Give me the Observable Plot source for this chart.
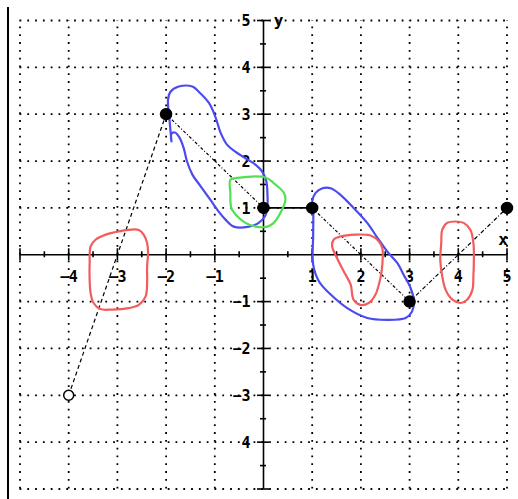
<!DOCTYPE html>
<html><head><meta charset="utf-8">
<script src="https://cdn.jsdelivr.net/npm/d3@7"></script>
<script src="https://cdn.jsdelivr.net/npm/@observablehq/plot@0.6"></script>
<style>
html,body{margin:0;padding:0;background:#fff;}
#wrap{position:relative;width:518px;height:499px;}
#edge{position:absolute;left:7px;top:7px;width:2px;height:492px;background:#000;}
</style></head><body><div id="wrap"><div id="edge"></div></div>
<script>
// ---- data ----
const pointX = [-4, -2, 0, 1, 3, 5];
const pointY = [-3, 3, 1, 1, -1, 1];
const pointOpen = [true, false, false, false, false, false];

const gridValues = [-5, -4, -3, -2, -1, 1, 2, 3, 4, 5];
const majorTicks = [-5, -4, -3, -2, -1, 1, 2, 3, 4, 5];
const minorTicks = [-4.5, -3.5, -2.5, -1.5, -0.5, 0.5, 1.5, 2.5, 3.5, 4.5];

const xTickValues = [-4, -3, -2, -1, 1, 2, 3, 4, 5];
const xTickLabels = ["−4", "−3", "−2", "−1", "1", "2", "3", "4", "5"];
const yTickValues = [5, 4, 3, 2, 1, -1, -2, -3, -4];
const yTickLabels = ["5", "4", "3", "2", "1", "−1", "−2", "−3", "4"];

const blueLoop1 = [
  [-1.89, 2.42], [-1.93, 2.88], [-1.96, 3.31], [-1.91, 3.48], [-1.74, 3.59], [-1.46, 3.59],
  [-1.33, 3.48], [-1.12, 3.24], [-0.99, 2.95], [-0.88, 2.60], [-0.75, 2.35], [-0.58, 2.20],
  [-0.37, 2.06], [-0.16, 1.92], [-0.03, 1.78], [0.06, 1.56], [0.08, 1.32], [0.08, 1.03],
  [0.03, 0.82], [-0.10, 0.68], [-0.30, 0.60], [-0.61, 0.60], [-0.78, 0.75], [-0.92, 0.92],
  [-1.09, 1.17], [-1.29, 1.46], [-1.46, 1.71], [-1.57, 1.99], [-1.64, 2.28], [-1.73, 2.51],
  [-1.82, 2.61], [-1.89, 2.58], [-1.89, 2.42]
];
const greenLoop = [
  [-0.68, 1.60], [-0.54, 1.64], [0.04, 1.65], [0.21, 1.53], [0.42, 1.32], [0.45, 1.17],
  [0.38, 0.96], [0.21, 0.68], [0.08, 0.60], [-0.16, 0.60], [-0.37, 0.68], [-0.54, 0.82],
  [-0.66, 1.00], [-0.68, 1.32]
];
const blueLoop2 = [
  [1.02, 1.00], [1.02, 0.43], [1.02, -0.21], [1.14, -0.57], [1.38, -0.85], [1.72, -1.14],
  [2.13, -1.35], [2.54, -1.39], [2.92, -1.35], [3.05, -1.21], [3.09, -1.00], [3.02, -0.71],
  [2.88, -0.43], [2.75, -0.18], [2.54, 0.07], [2.34, 0.36], [2.13, 0.68], [1.85, 1.00],
  [1.58, 1.28], [1.38, 1.42], [1.21, 1.42], [1.07, 1.32], [1.00, 1.14]
];
const redLoop1 = [
  [-3.55, 0.18], [-3.45, 0.32], [-3.24, 0.43], [-2.97, 0.50], [-2.77, 0.53], [-2.56, 0.53],
  [-2.46, 0.43], [-2.39, 0.25], [-2.37, 0.04], [-2.39, -0.25], [-2.39, -0.60], [-2.42, -0.89],
  [-2.56, -1.07], [-2.77, -1.14], [-3.11, -1.17], [-3.35, -1.16], [-3.49, -1.03], [-3.55, -0.82],
  [-3.57, -0.53], [-3.57, -0.18]
];
const redLoop2 = [
  [1.44, 0.32], [1.58, 0.39], [2.20, 0.41], [2.37, 0.28], [2.44, 0.14], [2.44, -0.21],
  [2.40, -0.50], [2.30, -0.85], [2.16, -1.03], [1.99, -1.07], [1.85, -0.96], [1.79, -0.64],
  [1.65, -0.36], [1.51, -0.07], [1.41, 0.18]
];
const redLoop3 = [
  [3.67, 0.53], [3.77, 0.68], [3.94, 0.71], [4.11, 0.68], [4.25, 0.53], [4.31, 0.25],
  [4.32, -0.04], [4.31, -0.46], [4.29, -0.75], [4.18, -0.96], [4.05, -1.03], [3.88, -0.96],
  [3.74, -0.75], [3.67, -0.46], [3.63, -0.11], [3.65, 0.25]
];

// ---- chart ----
const font = "'DejaVu Sans Mono', monospace";
const segIdx = [0, 1, 2, 3, 4];
const segDash = ["4,3", "3,2,1,2", "none", "3,2,1,2", "4,2,1,2"];
const idx = pointX.map((_, i) => i);
const px = d => d[0], py = d => d[1];
const gridStyle = {stroke: "#000", strokeWidth: 1.8, strokeDasharray: "1.8,6"};

const segMarks = segIdx.map(s => Plot.link([s], {
  x1: i => pointX[i], y1: i => pointY[i], x2: i => pointX[i + 1], y2: i => pointY[i + 1],
  stroke: "#000", strokeWidth: s === 2 ? 1.6 : 1.2, strokeDasharray: segDash[s]
}));

const chart = Plot.plot({
  width: 518, height: 499,
  marginLeft: 19.5, marginRight: 11.5, marginTop: 20, marginBottom: 10.5,
  x: {domain: [-5, 5], axis: null},
  y: {domain: [-5, 5], axis: null},
  style: {background: "transparent", fontFamily: font},
  marks: [
    Plot.ruleX(gridValues, {x: d => d, y1: -5, y2: 5, ...gridStyle}),
    Plot.ruleY(gridValues, {y: d => d, x1: -5, x2: 5, ...gridStyle}),
    Plot.ruleY([0], {y: d => d, x1: -5, x2: 5, stroke: "#000", strokeWidth: 1.6}),
    Plot.ruleX([0], {x: d => d, y1: -5, y2: 5, stroke: "#000", strokeWidth: 1.6}),
    Plot.ruleX(majorTicks, {x: d => d, y1: 0, y2: 0, insetTop: -6, insetBottom: -6, stroke: "#000", strokeWidth: 1.6}),
    Plot.ruleX(minorTicks, {x: d => d, y1: 0, y2: 0, insetTop: -3, insetBottom: -3, stroke: "#000", strokeWidth: 1.6}),
    Plot.ruleY(majorTicks, {y: d => d, x1: 0, x2: 0, insetLeft: -6, insetRight: -6, stroke: "#000", strokeWidth: 1.6}),
    Plot.ruleY(minorTicks, {y: d => d, x1: 0, x2: 0, insetLeft: -3, insetRight: -3, stroke: "#000", strokeWidth: 1.6}),
    Plot.text(xTickValues, {x: d => d, y: 0, text: (d, i) => xTickLabels[i], dy: 22, fontSize: 15, fontWeight: "bold", fill: "#000"}),
    Plot.text(yTickValues, {x: 0, y: d => d, text: (d, i) => yTickLabels[i], dx: -13, dy: 1, textAnchor: "end", fontSize: 15, fontWeight: "bold", fill: "#000"}),
    Plot.text(["y"], {x: 0, y: 5, text: d => d, dx: 15, dy: 0, fontSize: 16, fontWeight: "bold", fill: "#000"}),
    Plot.text(["x"], {x: 5, y: 0, text: d => d, dx: -4, dy: -15, fontSize: 16, fontWeight: "bold", fill: "#000"}),
    ...segMarks,
    Plot.line(blueLoop1, {x: px, y: py, stroke: "#4b4bef", strokeWidth: 2.2, curve: "catmull-rom"}),
    Plot.line(blueLoop2, {x: px, y: py, stroke: "#4b4bef", strokeWidth: 2.2, curve: "catmull-rom-closed"}),
    Plot.line(greenLoop, {x: px, y: py, stroke: "#52e052", strokeWidth: 2.2, curve: "catmull-rom-closed"}),
    Plot.line(redLoop1, {x: px, y: py, stroke: "#f25c5c", strokeWidth: 2.2, curve: "catmull-rom-closed"}),
    Plot.line(redLoop2, {x: px, y: py, stroke: "#f25c5c", strokeWidth: 2.2, curve: "catmull-rom-closed"}),
    Plot.line(redLoop3, {x: px, y: py, stroke: "#f25c5c", strokeWidth: 2.2, curve: "catmull-rom-closed"}),
    Plot.dot(idx.filter(i => !pointOpen[i]), {x: i => pointX[i], y: i => pointY[i], r: 5.5, fill: "#000", stroke: "#000"}),
    Plot.dot(idx.filter(i => pointOpen[i]), {x: i => pointX[i], y: i => pointY[i], r: 5, fill: "#fff", stroke: "#000", strokeWidth: 1.5})
  ]
});
document.getElementById("wrap").appendChild(chart);
chart.style.position = "absolute";
chart.style.left = "0";
chart.style.top = "0";
</script>
</body></html>
